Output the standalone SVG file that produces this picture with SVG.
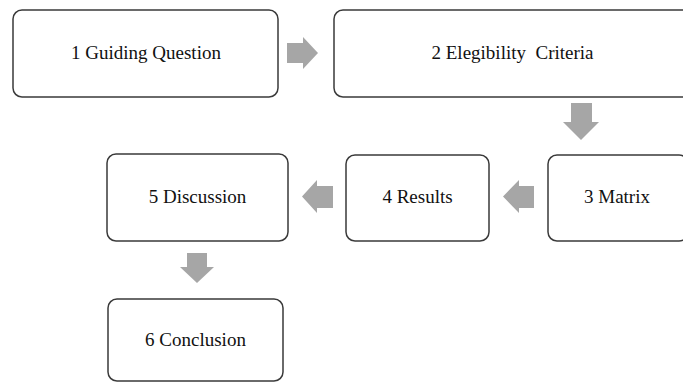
<svg xmlns="http://www.w3.org/2000/svg" width="683" height="384" viewBox="0 0 683 384">
<style>
.box{fill:#fff;stroke:#3a3a3a;stroke-width:1.5}
.lbl{font-size:19px;fill:#111;text-anchor:middle}
.arr{fill:#a6a6a6}
</style>
<rect width="683" height="384" fill="#fff"/>
<g font-family="'Liberation Serif', 'DejaVu Serif', serif">
<g id="n1"><rect class="box" x="13" y="10" width="265" height="87" rx="9"/><text class="lbl" x="146" y="59">1 Guiding Question</text></g>
<g id="n2"><rect class="box" x="334" y="10" width="357" height="87" rx="9"/><text class="lbl" x="512.5" y="59" xml:space="preserve">2 Elegibility  Criteria</text></g>
<g id="n3"><rect class="box" x="548" y="155" width="140" height="86" rx="9"/><text class="lbl" x="617" y="203">3 Matrix</text></g>
<g id="n4"><rect class="box" x="346" y="155" width="143" height="86" rx="9"/><text class="lbl" x="417.5" y="203">4 Results</text></g>
<g id="n5"><rect class="box" x="107" y="154" width="181" height="87" rx="9"/><text class="lbl" x="197.5" y="203">5 Discussion</text></g>
<g id="n6"><rect class="box" x="108" y="299" width="175" height="82" rx="9"/><text class="lbl" x="195.5" y="346">6 Conclusion</text></g>
</g>
<g id="connectors">
<polygon class="arr" points="287,43 303,43 303,37 318,53 303,69 303,63 287,63"/>
<polygon class="arr" points="571,103 592,103 592,122 599,122 581,140 563,122 571,122"/>
<polygon class="arr" points="534,186 519,186 519,180 503,196.5 519,213 519,208 534,208"/>
<polygon class="arr" points="333,186 317,186 317,180 302,196.5 317,213 317,208 333,208"/>
<polygon class="arr" points="187,253 207,253 207,267 214,267 197,283 180,267 187,267"/>
</g>
</svg>
